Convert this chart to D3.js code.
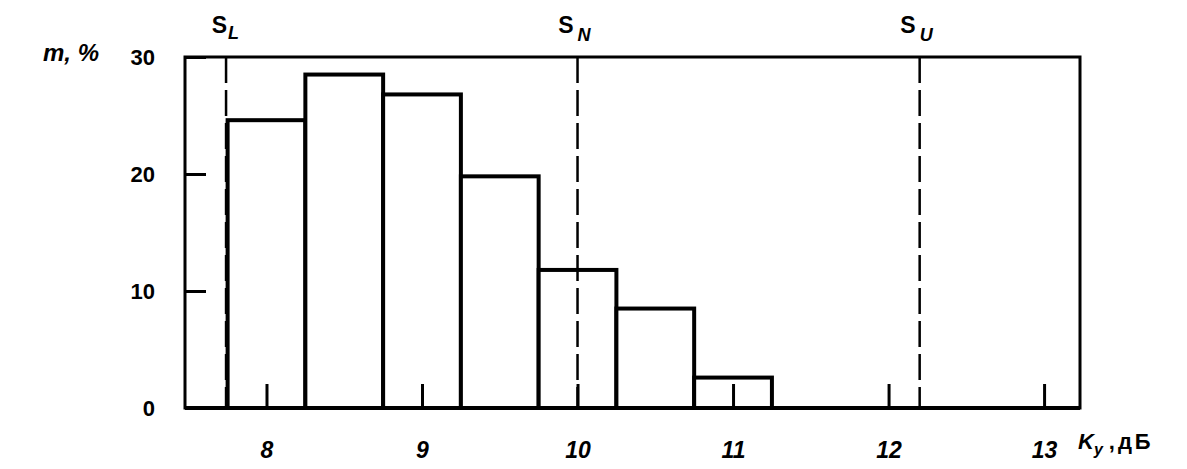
<!DOCTYPE html>
<html>
<head>
<meta charset="utf-8">
<script src="https://cdn.jsdelivr.net/npm/d3@7"></script>
<style>
  html, body { margin: 0; padding: 0; background: #fff; }
  svg { display: block; }
  text { font-family: "Liberation Sans", Arial, sans-serif; fill: #000; }
</style>
</head>
<body>
<svg id="chart" width="1187" height="469"></svg>
<script>
// ---- data ----
const binStarts = [7.75, 8.25, 8.75, 9.25, 9.75, 10.25, 10.75];
const binWidth = 0.5;
const shares = [24.6, 28.5, 26.8, 19.8, 11.8, 8.5, 2.6];
const xTickValues = [8, 9, 10, 11, 12, 13];
const yTickValues = [0, 10, 20, 30];
const refNames = ["S", "S", "S"];
const refSubs = ["L", "N", "U"];
const refValues = [7.74, 10.0, 12.2];
const yAxisTitle = "m, %";
const xAxisTitleMain = "K";
const xAxisTitleSub = "y";
const xAxisTitleUnit = ",дБ";

// ---- layout ----
const L = 185, R = 1080, T = 57, B = 408;
const svg = d3.select("#chart");

const x = d3.scaleLinear().domain([7.476, 13.231]).range([L, R]);
const y = d3.scaleLinear().domain([0, 30]).range([B, T]);

// bars
svg.append("g").selectAll("rect")
  .data(binStarts.map((s, i) => ({ s, v: shares[i] })))
  .join("rect")
  .attr("x", d => x(d.s))
  .attr("y", d => y(d.v))
  .attr("width", d => x(d.s + binWidth) - x(d.s))
  .attr("height", d => y(0) - y(d.v))
  .attr("fill", "#fff")
  .attr("stroke", "#000")
  .attr("stroke-width", 4);

// frame
svg.append("rect")
  .attr("x", L).attr("y", T)
  .attr("width", R - L).attr("height", B - T)
  .attr("fill", "none").attr("stroke", "#000").attr("stroke-width", 3);
svg.append("line")
  .attr("x1", L).attr("x2", R).attr("y1", B).attr("y2", B)
  .attr("stroke", "#000").attr("stroke-width", 4);

// y axis (ticks inward)
const yAxis = d3.axisLeft(y).tickValues(yTickValues).tickSize(-21).tickPadding(30)
  .tickFormat(d3.format("d"));
const gy = svg.append("g").attr("transform", `translate(${L},0)`).call(yAxis);
gy.select(".domain").remove();
gy.selectAll(".tick line").attr("stroke", "#000").attr("stroke-width", 3);
gy.selectAll(".tick text")
  .attr("font-size", 22).attr("font-weight", "bold")
  .attr("font-family", "Liberation Sans, Arial, sans-serif")
  .attr("dy", "0.35em");

// x axis (ticks upward)
const xAxis = d3.axisBottom(x).tickValues(xTickValues).tickSize(-24).tickPadding(34)
  .tickFormat(d3.format("d"));
const gx = svg.append("g").attr("transform", `translate(0,${B})`).call(xAxis);
gx.select(".domain").remove();
gx.selectAll(".tick line").attr("stroke", "#000").attr("stroke-width", 3);
gx.selectAll(".tick text")
  .attr("font-size", 23).attr("font-weight", "bold").attr("font-style", "italic")
  .attr("font-family", "Liberation Sans, Arial, sans-serif");

// reference dashed lines
svg.append("g").selectAll("line")
  .data(refValues)
  .join("line")
  .attr("x1", d => x(d)).attr("x2", d => x(d))
  .attr("y1", T).attr("y2", B)
  .attr("stroke", "#000").attr("stroke-width", 2.5)
  .attr("stroke-dasharray", "26,7");

const refLabels = svg.append("g").selectAll("g")
  .data(refValues.map((v, i) => ({ v, n: refNames[i], s: refSubs[i], i })))
  .join("g");
refLabels.append("text")
  .attr("x", d => x(d.v) + (d.i === 0 ? 1 : -4))
  .attr("y", 33)
  .attr("text-anchor", "end")
  .attr("font-size", 23).attr("font-weight", "bold")
  .text(d => d.n);
refLabels.append("text")
  .attr("x", d => x(d.v) + (d.i === 0 ? 2 : 0))
  .attr("y", d => d.i === 0 ? 39 : 41)
  .attr("font-size", 18).attr("font-weight", "bold").attr("font-style", "italic")
  .text(d => d.s);

// y axis title
svg.append("text")
  .attr("x", 43).attr("y", 61)
  .attr("font-size", 24).attr("font-weight", "bold").attr("font-style", "italic")
  .text(yAxisTitle);

// x axis title
const xt = svg.append("text")
  .attr("x", 1078).attr("y", 449)
  .attr("font-size", 22).attr("font-weight", "bold");
xt.append("tspan").attr("font-style", "italic").text(xAxisTitleMain);
xt.append("tspan").attr("font-style", "italic").attr("font-size", 16).attr("dy", 6).text(xAxisTitleSub);
xt.append("tspan").attr("dy", -6).attr("dx", 6).attr("letter-spacing", 3).text(xAxisTitleUnit);
</script>
</body>
</html>
